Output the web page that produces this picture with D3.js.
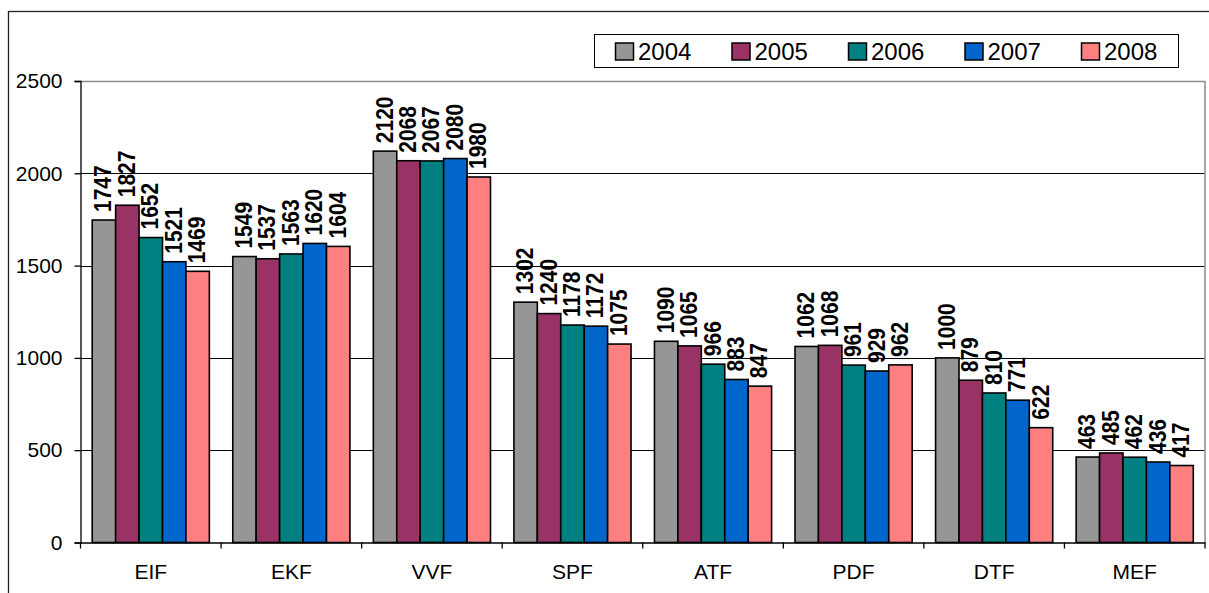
<!DOCTYPE html>
<html>
<head>
<meta charset="utf-8">
<script src="https://cdn.jsdelivr.net/npm/d3@7"></script>
<style>
    body { margin: 0; background: #fff; }
    svg { display: block; font-family: "Liberation Sans", Arial, sans-serif; }
</style>
</head>
<body>
<svg id="chart" width="1209" height="593"></svg>
<script>
// faculties and yearly values
const categories = ["EIF", "EKF", "VVF", "SPF", "ATF", "PDF", "DTF", "MEF"];
const years = ["2004", "2005", "2006", "2007", "2008"];
const values_2004 = [1747, 1549, 2120, 1302, 1090, 1062, 1000, 463];
const values_2005 = [1827, 1537, 2068, 1240, 1065, 1068, 879, 485];
const values_2006 = [1652, 1563, 2067, 1178, 966, 961, 810, 462];
const values_2007 = [1521, 1620, 2080, 1172, 883, 929, 771, 436];
const values_2008 = [1469, 1604, 1980, 1075, 847, 962, 622, 417];
const y_ticks = [0, 500, 1000, 1500, 2000, 2500];
const colors = ["#969696", "#993366", "#008080", "#0066CC", "#FF8080"];

const series = [values_2004, values_2005, values_2006, values_2007, values_2008];

const plot = {left: 80.5, right: 1205, top: 81, bottom: 542.5};

const svg = d3.select("#chart");

// outer chart border
svg.append("rect")
    .attr("x", 8.5)
    .attr("y", 11.5)
    .attr("width", 1300)
    .attr("height", 700)
    .attr("fill", "none")
    .attr("stroke", "#222")
    .attr("stroke-width", 1.3);

const x0 = d3.scaleBand()
    .domain(categories)
    .range([plot.left, plot.right])
    .padding(0);

const x1 = d3.scaleBand()
    .domain(years)
    .range([x0.bandwidth() / 12, x0.bandwidth() * 11 / 12])
    .padding(0);

const yScale = d3.scaleLinear()
    .domain([0, 2500])
    .range([plot.bottom, plot.top]);

const color = d3.scaleOrdinal()
    .domain(years)
    .range(colors);

// gridlines (top one is the gray plot border)
svg.append("g")
    .selectAll("line")
    .data(y_ticks.filter(function (d) { return d > 0 && d < 2500; }))
    .enter()
    .append("line")
    .attr("x1", plot.left)
    .attr("x2", plot.right)
    .attr("y1", function (d) { return Math.round(yScale(d)) + 0.5; })
    .attr("y2", function (d) { return Math.round(yScale(d)) + 0.5; })
    .attr("stroke", "#000")
    .attr("stroke-width", 1);

// plot area border top and right
svg.append("path")
    .attr("d", "M" + plot.left + "," + (plot.top + 0.5) + "H" + plot.right + "V" + plot.bottom)
    .attr("fill", "none")
    .attr("stroke", "#8c8c8c")
    .attr("stroke-width", 1.5);

const data = categories.map(function (c, i) {
    return {cat: c, vals: years.map(function (y, j) { return {year: y, value: series[j][i]}; })};
});

const groups = svg.append("g")
    .selectAll("g.cat")
    .data(data)
    .enter()
    .append("g")
    .attr("class", "cat")
    .attr("transform", function (d) { return "translate(" + x0(d.cat) + ",0)"; });

groups.selectAll("rect")
    .data(function (d) { return d.vals; })
    .enter()
    .append("rect")
    .attr("x", function (d) { return x1(d.year); })
    .attr("y", function (d) { return yScale(d.value); })
    .attr("width", x1.bandwidth())
    .attr("height", function (d) { return yScale(0) - yScale(d.value); })
    .attr("fill", function (d) { return color(d.year); })
    .attr("stroke", "#000")
    .attr("stroke-width", 1.6);

// value labels, slightly widened like the original
groups.selectAll("text")
    .data(function (d) { return d.vals; })
    .enter()
    .append("text")
    .attr("transform", function (d) {
        return "translate(" + (x1(d.year) + x1.bandwidth() / 2 - 1) + "," + (yScale(d.value) - 8) + ") rotate(-90) scale(1,1.13)";
    })
    .attr("dy", "0.36em")
    .attr("font-size", "21px")
    .attr("font-weight", "bold")
    .attr("fill", "#000")
    .text(function (d) { return d.value; });

// y axis
const yAxis = svg.append("g")
    .attr("transform", "translate(" + plot.left + ",0)")
    .call(d3.axisLeft(yScale).tickValues(y_ticks).tickFormat(d3.format("d")).tickSize(6).tickPadding(12));

yAxis.select(".domain").attr("stroke", "#000").attr("stroke-width", 1.3);
yAxis.selectAll(".tick line").attr("stroke", "#000").attr("stroke-width", 1.3);
yAxis.selectAll(".tick text")
    .attr("font-size", "21px")
    .attr("font-family", "Liberation Sans, Arial, sans-serif")
    .attr("fill", "#000");

// x axis
const xAxis = svg.append("g")
    .attr("transform", "translate(0," + plot.bottom + ")")
    .call(d3.axisBottom(x0).tickSize(0).tickPadding(22));

xAxis.select(".domain").attr("stroke", "#000").attr("stroke-width", 1.3);
xAxis.selectAll(".tick text")
    .attr("font-size", "21px")
    .attr("font-family", "Liberation Sans, Arial, sans-serif")
    .attr("fill", "#000");

// category separators below the axis
xAxis.append("g")
    .selectAll("line")
    .data(categories.concat(["end"]))
    .enter()
    .append("line")
    .attr("x1", function (d, i) { return plot.left + i * x0.step(); })
    .attr("x2", function (d, i) { return plot.left + i * x0.step(); })
    .attr("y1", 0)
    .attr("y2", 6)
    .attr("stroke", "#000")
    .attr("stroke-width", 1.3);

// legend
const legendX = d3.scaleBand()
    .domain(years)
    .range([615, 615 + 5 * 116.5]);

const legend = svg.append("g");

legend.append("rect")
    .attr("x", 594.5)
    .attr("y", 34.5)
    .attr("width", 584)
    .attr("height", 33)
    .attr("fill", "#fff")
    .attr("stroke", "#000")
    .attr("stroke-width", 1);

const items = legend.selectAll("g.item")
    .data(years)
    .enter()
    .append("g")
    .attr("class", "item")
    .attr("transform", function (d) { return "translate(" + legendX(d) + ",0)"; });

items.append("rect")
    .attr("x", 0.5)
    .attr("y", 43)
    .attr("width", 18)
    .attr("height", 17)
    .attr("fill", function (d) { return color(d); })
    .attr("stroke", "#000")
    .attr("stroke-width", 1.5);

items.append("text")
    .attr("x", 23)
    .attr("y", 60)
    .attr("font-size", "24px")
    .attr("fill", "#000")
    .text(function (d) { return d; });
</script>
</body>
</html>
